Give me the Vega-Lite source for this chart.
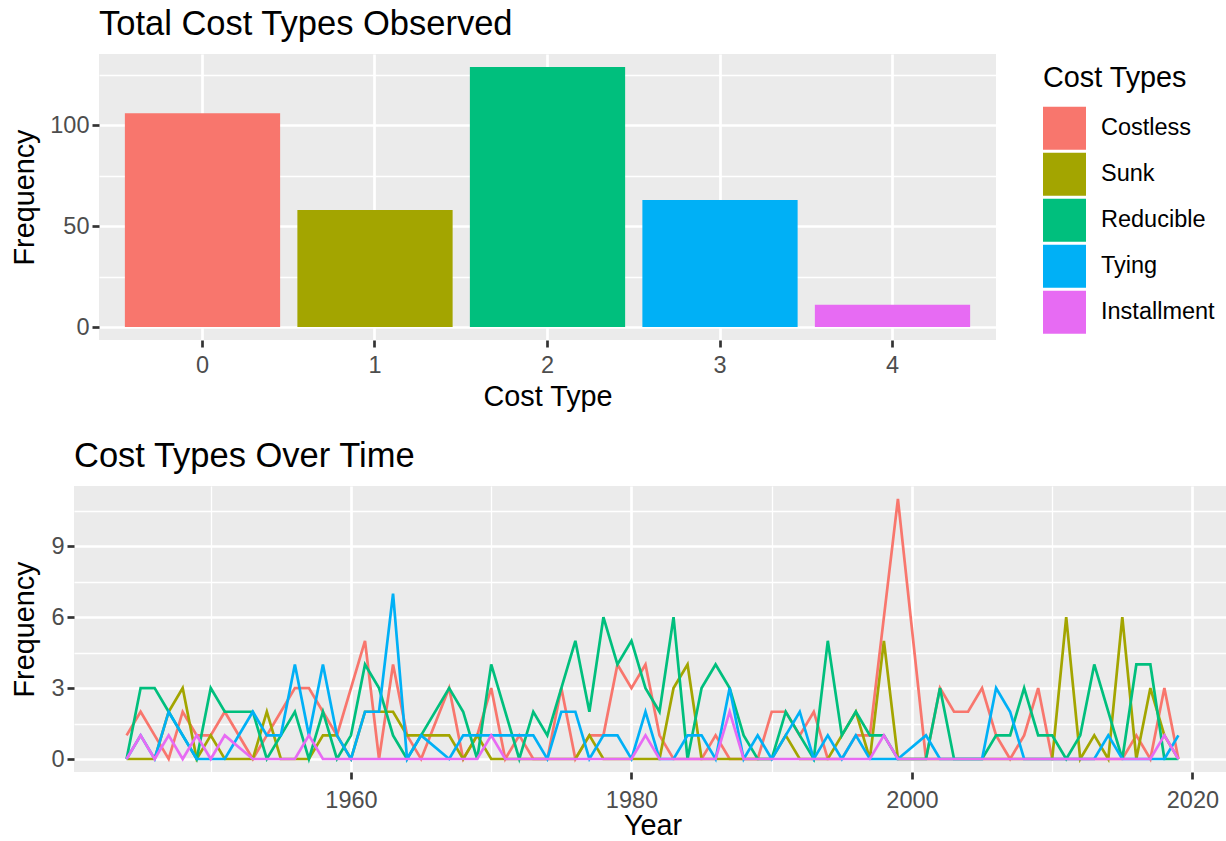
{
  "$schema": "https://vega.github.io/schema/vega-lite/v6.json",
  "padding": {"left": 3, "top": 6, "right": 0, "bottom": 0},
  "background": "white",
  "config": {
    "font": "Liberation Sans",
    "view": {"fill": "#EBEBEB", "stroke": null},
    "axis": {
      "gridColor": "white", "gridWidth": 2.7, "domain": false,
      "tickColor": "#333333", "tickWidth": 2.7, "tickSize": 7,
      "labelColor": "#4D4D4D", "labelFontSize": 23.5, "labelPadding": 3,
      "titleFontSize": 28.8, "titleFontWeight": "normal", "titleColor": "black"
    },
    "title": {"fontSize": 34.5, "fontWeight": "normal", "anchor": "start", "frame": "group", "color": "black", "offset": 12}
  },
  "spacing": 26,
  "vconcat": [
    {
      "spacing": 0,
      "hconcat": [
        {
          "width": 1,
          "height": 1,
          "data": {"values": [{"k": 0}]},
          "mark": {"type": "point", "opacity": 0},
          "view": {"fill": null, "stroke": null}
        },
        {
          "width": 897,
          "height": 286,
          "title": "Total Cost Types Observed",
          "data": {"values": [
            {"code": "0", "type": "Costless", "n": 106},
            {"code": "1", "type": "Sunk", "n": 58},
            {"code": "2", "type": "Reducible", "n": 129},
            {"code": "3", "type": "Tying", "n": 63},
            {"code": "4", "type": "Installment", "n": 11}
          ]},
          "layer": [
            {
              "mark": {"type": "bar"},
              "encoding": {
                "x": {"field": "code", "type": "ordinal", "scale": {"paddingInner": 0.1, "paddingOuter": 0.15},
                      "axis": {"title": "Cost Type", "labelAngle": 0, "bandPosition": 0.5, "grid": true, "labelPadding": 6, "titlePadding": 6}},
                "y": {"field": "n", "type": "quantitative", "scale": {"domain": [-6.45, 135.45], "nice": false, "zero": false},
                      "axis": {"values": [0, 50, 100], "title": "Frequency", "grid": true, "titlePadding": 10}},
                "color": {"field": "type", "type": "nominal",
                          "scale": {"domain": ["Costless", "Sunk", "Reducible", "Tying", "Installment"],
                                    "range": ["#F8766D", "#A3A500", "#00BF7D", "#00B0F6", "#E76BF3"]},
                          "legend": {"title": "Cost Types", "orient": "none", "legendX": 1037, "legendY": 10,
                                     "symbolType": "square", "symbolSize": 1849, "symbolStrokeWidth": 0, "symbolOpacity": 1,
                                     "titleFontSize": 28.8, "titleFontWeight": "normal", "titleColor": "black",
                                     "labelFontSize": 23.5, "labelColor": "black", "labelOffset": 15,
                                     "rowPadding": 3, "titlePadding": 14}}
              }
            },
            {
              "mark": {"type": "bar", "opacity": 0},
              "encoding": {
                "x": {"field": "code", "type": "ordinal",
                      "axis": {"orient": "top", "labels": false, "ticks": false, "grid": false, "domain": false, "title": null}},
                "y": {"field": "n", "type": "quantitative",
                      "axis": {"orient": "right", "values": [25, 75, 125], "grid": true, "gridWidth": 1.35, "labels": false, "ticks": false, "title": null}}
              }
            }
          ],
          "resolve": {"axis": {"x": "independent", "y": "independent"}}
        }
      ]
    },
    {
      "spacing": 0,
      "hconcat": [
        {
          "width": 1,
          "height": 1,
          "data": {"values": [{"k": 0}]},
          "mark": {"type": "point", "opacity": 0},
          "view": {"fill": null, "stroke": null}
        },
        {
          "width": 1157,
          "height": 286,
          "title": "Cost Types Over Time",
          "data": {"values": [
            {"year": 1944, "Costless": 1, "Sunk": 0, "Reducible": 0, "Tying": 0, "Installment": 0},
            {"year": 1945, "Costless": 2, "Sunk": 0, "Reducible": 3, "Tying": 1, "Installment": 1},
            {"year": 1946, "Costless": 1, "Sunk": 0, "Reducible": 3, "Tying": 0, "Installment": 0},
            {"year": 1947, "Costless": 0, "Sunk": 2, "Reducible": 2, "Tying": 2, "Installment": 1},
            {"year": 1948, "Costless": 2, "Sunk": 3, "Reducible": 1, "Tying": 1, "Installment": 0},
            {"year": 1949, "Costless": 1, "Sunk": 0, "Reducible": 0, "Tying": 0, "Installment": 1},
            {"year": 1950, "Costless": 1, "Sunk": 1, "Reducible": 3, "Tying": 0, "Installment": 0},
            {"year": 1951, "Costless": 2, "Sunk": 0, "Reducible": 2, "Tying": 0, "Installment": 1},
            {"year": 1953, "Costless": 0, "Sunk": 0, "Reducible": 2, "Tying": 2, "Installment": 0},
            {"year": 1954, "Costless": 1, "Sunk": 2, "Reducible": 0, "Tying": 1, "Installment": 0},
            {"year": 1955, "Costless": 2, "Sunk": 0, "Reducible": 1, "Tying": 1, "Installment": 0},
            {"year": 1956, "Costless": 3, "Sunk": 0, "Reducible": 2, "Tying": 4, "Installment": 0},
            {"year": 1957, "Costless": 3, "Sunk": 0, "Reducible": 0, "Tying": 1, "Installment": 1},
            {"year": 1958, "Costless": 2, "Sunk": 1, "Reducible": 2, "Tying": 4, "Installment": 0},
            {"year": 1959, "Costless": 1, "Sunk": 1, "Reducible": 0, "Tying": 1, "Installment": 0},
            {"year": 1960, "Costless": 3, "Sunk": 0, "Reducible": 1, "Tying": 0, "Installment": 0},
            {"year": 1961, "Costless": 5, "Sunk": 2, "Reducible": 4, "Tying": 2, "Installment": 0},
            {"year": 1962, "Costless": 0, "Sunk": 2, "Reducible": 3, "Tying": 2, "Installment": 0},
            {"year": 1963, "Costless": 4, "Sunk": 2, "Reducible": 1, "Tying": 7, "Installment": 0},
            {"year": 1964, "Costless": 1, "Sunk": 1, "Reducible": 0, "Tying": 0, "Installment": 0},
            {"year": 1965, "Costless": 0, "Sunk": 1, "Reducible": 1, "Tying": 1, "Installment": 0},
            {"year": 1967, "Costless": 3, "Sunk": 1, "Reducible": 3, "Tying": 0, "Installment": 0},
            {"year": 1968, "Costless": 0, "Sunk": 0, "Reducible": 2, "Tying": 1, "Installment": 0},
            {"year": 1969, "Costless": 1, "Sunk": 1, "Reducible": 0, "Tying": 1, "Installment": 0},
            {"year": 1970, "Costless": 3, "Sunk": 0, "Reducible": 4, "Tying": 1, "Installment": 1},
            {"year": 1971, "Costless": 0, "Sunk": 0, "Reducible": 2, "Tying": 1, "Installment": 0},
            {"year": 1972, "Costless": 1, "Sunk": 0, "Reducible": 0, "Tying": 1, "Installment": 0},
            {"year": 1973, "Costless": 0, "Sunk": 0, "Reducible": 2, "Tying": 1, "Installment": 0},
            {"year": 1974, "Costless": 0, "Sunk": 0, "Reducible": 1, "Tying": 0, "Installment": 0},
            {"year": 1975, "Costless": 3, "Sunk": 0, "Reducible": 3, "Tying": 2, "Installment": 0},
            {"year": 1976, "Costless": 0, "Sunk": 0, "Reducible": 5, "Tying": 2, "Installment": 0},
            {"year": 1977, "Costless": 1, "Sunk": 1, "Reducible": 2, "Tying": 0, "Installment": 0},
            {"year": 1978, "Costless": 1, "Sunk": 0, "Reducible": 6, "Tying": 1, "Installment": 0},
            {"year": 1979, "Costless": 4, "Sunk": 0, "Reducible": 4, "Tying": 1, "Installment": 0},
            {"year": 1980, "Costless": 3, "Sunk": 0, "Reducible": 5, "Tying": 0, "Installment": 0},
            {"year": 1981, "Costless": 4, "Sunk": 0, "Reducible": 3, "Tying": 2, "Installment": 1},
            {"year": 1982, "Costless": 1, "Sunk": 0, "Reducible": 2, "Tying": 0, "Installment": 0},
            {"year": 1983, "Costless": 0, "Sunk": 3, "Reducible": 6, "Tying": 0, "Installment": 0},
            {"year": 1984, "Costless": 0, "Sunk": 4, "Reducible": 0, "Tying": 1, "Installment": 0},
            {"year": 1985, "Costless": 0, "Sunk": 0, "Reducible": 3, "Tying": 1, "Installment": 0},
            {"year": 1986, "Costless": 1, "Sunk": 0, "Reducible": 4, "Tying": 0, "Installment": 0},
            {"year": 1987, "Costless": 0, "Sunk": 0, "Reducible": 3, "Tying": 3, "Installment": 2},
            {"year": 1988, "Costless": 0, "Sunk": 0, "Reducible": 1, "Tying": 0, "Installment": 0},
            {"year": 1989, "Costless": 0, "Sunk": 0, "Reducible": 0, "Tying": 1, "Installment": 0},
            {"year": 1990, "Costless": 2, "Sunk": 0, "Reducible": 0, "Tying": 0, "Installment": 0},
            {"year": 1991, "Costless": 2, "Sunk": 1, "Reducible": 2, "Tying": 1, "Installment": 0},
            {"year": 1992, "Costless": 1, "Sunk": 0, "Reducible": 1, "Tying": 2, "Installment": 0},
            {"year": 1993, "Costless": 2, "Sunk": 0, "Reducible": 0, "Tying": 0, "Installment": 0},
            {"year": 1994, "Costless": 0, "Sunk": 0, "Reducible": 5, "Tying": 1, "Installment": 0},
            {"year": 1995, "Costless": 0, "Sunk": 1, "Reducible": 1, "Tying": 0, "Installment": 0},
            {"year": 1996, "Costless": 1, "Sunk": 2, "Reducible": 2, "Tying": 1, "Installment": 0},
            {"year": 1997, "Costless": 1, "Sunk": 0, "Reducible": 1, "Tying": 0, "Installment": 0},
            {"year": 1998, "Costless": 6, "Sunk": 5, "Reducible": 1, "Tying": 0, "Installment": 1},
            {"year": 1999, "Costless": 11, "Sunk": 0, "Reducible": 0, "Tying": 0, "Installment": 0},
            {"year": 2001, "Costless": 0, "Sunk": 0, "Reducible": 0, "Tying": 1, "Installment": 0},
            {"year": 2002, "Costless": 3, "Sunk": 0, "Reducible": 3, "Tying": 0, "Installment": 0},
            {"year": 2003, "Costless": 2, "Sunk": 0, "Reducible": 0, "Tying": 0, "Installment": 0},
            {"year": 2004, "Costless": 2, "Sunk": 0, "Reducible": 0, "Tying": 0, "Installment": 0},
            {"year": 2005, "Costless": 3, "Sunk": 0, "Reducible": 0, "Tying": 0, "Installment": 0},
            {"year": 2006, "Costless": 1, "Sunk": 0, "Reducible": 1, "Tying": 3, "Installment": 0},
            {"year": 2007, "Costless": 0, "Sunk": 0, "Reducible": 1, "Tying": 2, "Installment": 0},
            {"year": 2008, "Costless": 1, "Sunk": 0, "Reducible": 3, "Tying": 0, "Installment": 0},
            {"year": 2009, "Costless": 3, "Sunk": 0, "Reducible": 1, "Tying": 0, "Installment": 0},
            {"year": 2010, "Costless": 0, "Sunk": 0, "Reducible": 1, "Tying": 0, "Installment": 0},
            {"year": 2011, "Costless": 0, "Sunk": 6, "Reducible": 0, "Tying": 0, "Installment": 0},
            {"year": 2012, "Costless": 0, "Sunk": 0, "Reducible": 1, "Tying": 0, "Installment": 0},
            {"year": 2013, "Costless": 0, "Sunk": 1, "Reducible": 4, "Tying": 0, "Installment": 0},
            {"year": 2014, "Costless": 0, "Sunk": 0, "Reducible": 2, "Tying": 1, "Installment": 0},
            {"year": 2015, "Costless": 0, "Sunk": 6, "Reducible": 0, "Tying": 0, "Installment": 0},
            {"year": 2016, "Costless": 1, "Sunk": 0, "Reducible": 4, "Tying": 0, "Installment": 0},
            {"year": 2017, "Costless": 0, "Sunk": 3, "Reducible": 4, "Tying": 0, "Installment": 0},
            {"year": 2018, "Costless": 3, "Sunk": 1, "Reducible": 0, "Tying": 0, "Installment": 1},
            {"year": 2019, "Costless": 0, "Sunk": 0, "Reducible": 0, "Tying": 1, "Installment": 0}
          ]},
          "transform": [{"fold": ["Costless", "Sunk", "Reducible", "Tying", "Installment"], "as": ["type", "count"]}],
          "layer": [
            {
              "mark": {"type": "line", "strokeWidth": 2.7},
              "encoding": {
                "x": {"field": "year", "type": "quantitative", "scale": {"domain": [1940.25, 2022.75], "nice": false, "zero": false},
                      "axis": {"values": [1960, 1980, 2000, 2020], "format": "d", "title": "Year", "grid": true, "labelPadding": 9, "titlePadding": 0}},
                "y": {"field": "count", "type": "quantitative", "scale": {"domain": [-0.55, 11.55], "nice": false, "zero": false},
                      "axis": {"values": [0, 3, 6, 9], "title": "Frequency", "grid": true, "titlePadding": 11}},
                "color": {"field": "type", "type": "nominal",
                          "scale": {"domain": ["Costless", "Sunk", "Reducible", "Tying", "Installment"],
                                    "range": ["#F8766D", "#A3A500", "#00BF7D", "#00B0F6", "#E76BF3"]},
                          "legend": null}
              }
            },
            {
              "mark": {"type": "line", "opacity": 0},
              "encoding": {
                "x": {"field": "year", "type": "quantitative",
                      "axis": {"orient": "top", "values": [1950, 1970, 1990, 2010], "grid": true, "gridWidth": 1.35, "labels": false, "ticks": false, "title": null}},
                "y": {"field": "count", "type": "quantitative",
                      "axis": {"orient": "right", "values": [1.5, 4.5, 7.5, 10.5], "grid": true, "gridWidth": 1.35, "labels": false, "ticks": false, "title": null}}
              }
            }
          ],
          "resolve": {"axis": {"x": "independent", "y": "independent"}}
        }
      ]
    }
  ],
  "resolve": {"scale": {"color": "independent"}, "legend": {"color": "independent"}}
}
